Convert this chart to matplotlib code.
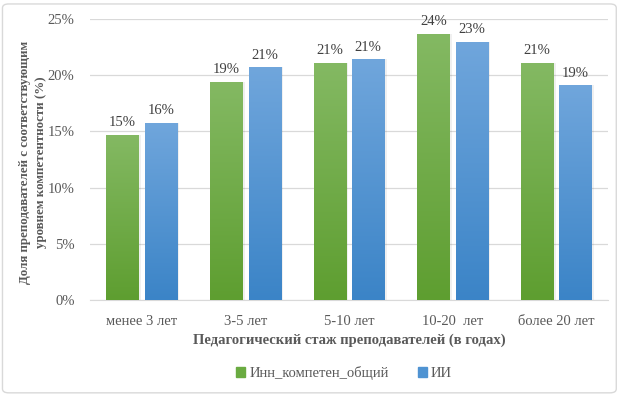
import numpy as np
import matplotlib.pyplot as plt
from matplotlib.colors import LinearSegmentedColormap
from matplotlib.patches import FancyBboxPatch

plt.rcParams['font.family'] = ['Liberation Serif', 'DejaVu Serif']

# данные
categories = ['менее 3 лет', '3-5 лет', '5-10 лет', '10-20  лет', 'более 20 лет']
inn = [14.7, 19.4, 21.1, 23.7, 21.1]
ii = [15.75, 20.7, 21.4, 23.0, 19.1]
inn_labels = ['15%', '19%', '21%', '24%', '21%']
ii_labels = ['16%', '21%', '21%', '23%', '19%']
yticks = [0, 5, 10, 15, 20, 25]

green_cmap = LinearSegmentedColormap.from_list('g', ['#5e9e30', '#84b963'])
blue_cmap = LinearSegmentedColormap.from_list('b', ['#3b84c7', '#70a6dc'])

fig = plt.figure(figsize=(6.2, 3.96), dpi=100)
ax = fig.add_axes([0.145, 0.242, 0.836, 0.710])

x = np.arange(len(categories))
w = 0.31
off = 0.185

grad = np.linspace(0, 1, 256).reshape(-1, 1)


def draw_bars(xs, vals, cmap, labels):
    bars = ax.bar(xs, vals, w, color='none', edgecolor='none', zorder=3)
    for b, lab in zip(bars, labels):
        x0 = b.get_x()
        h = b.get_height()
        # лёгкая тень
        ax.bar(x0 + w / 2 + 0.012, h, w + 0.02, color='#000000', alpha=0.06,
               zorder=2)
        im = ax.imshow(grad, cmap=cmap, aspect='auto', origin='lower',
                       extent=[x0, x0 + w, 0, h], zorder=3)
        im.set_clip_path(b)
        ax.text(x0 + w / 2, h + 0.5, lab, ha='center', va='bottom',
                fontsize=10.5, color='#404040')
    return bars


g = draw_bars(x - off, inn, green_cmap, inn_labels)
bl = draw_bars(x + off, ii, blue_cmap, ii_labels)

ax.set_xlim(-0.5, 4.5)
ax.set_ylim(0, 25)
ax.set_yticks(yticks)
ax.set_yticklabels([f'{t}%' for t in yticks])
ax.set_xticks(x)
ax.set_xticklabels(categories)
ax.tick_params(length=0, labelsize=10.5, colors='#595959')
ax.tick_params(axis='y', pad=11)
ax.tick_params(axis='x', pad=11)
ax.grid(axis='y', color='#d9d9d9', linewidth=0.9, zorder=0)
ax.set_axisbelow(True)
for s in ['top', 'right', 'left']:
    ax.spines[s].set_visible(False)
ax.spines['bottom'].set_color('#d9d9d9')

ax.set_xlabel('Педагогический стаж преподавателей (в годах)', fontsize=10.5,
              fontweight='bold', color='#595959', labelpad=4)
fig.text(33 / 620, 1 - 162 / 396,
         'Доля преподавателей с соответствующим\nуровнем компетентности (%)',
         rotation=90, ha='center', va='center', fontsize=9.3,
         fontweight='bold', color='#595959', linespacing=1.45)

handles = [plt.Rectangle((0, 0), 1, 1, color='#6aab41'),
           plt.Rectangle((0, 0), 1, 1, color='#4f93d2')]
fig.legend(handles, ['Инн_компетен_общий', 'ИИ'], loc='center',
           bbox_to_anchor=(0.555, 0.058), ncol=2, frameon=False,
           fontsize=10.5, handlelength=0.6, handleheight=0.6,
           handletextpad=0.3, columnspacing=2.0, labelcolor='#595959')

border = FancyBboxPatch((0.004, 0.008), 0.99, 0.982,
                        boxstyle='round,pad=0,rounding_size=0.01',
                        transform=fig.transFigure, facecolor='none',
                        edgecolor='#d9d9d9', linewidth=1.0)
fig.patches.append(border)

fig.savefig('out.png', dpi=100)
